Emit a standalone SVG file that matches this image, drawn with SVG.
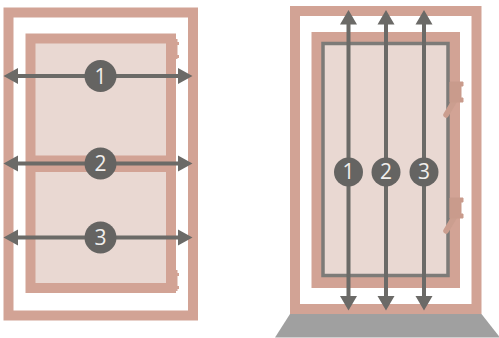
<svg xmlns="http://www.w3.org/2000/svg" width="499" height="338" viewBox="0 0 499 338">
<style>
.frame{fill:none;stroke:#d2a395;stroke-width:10}
.sash{fill:#e9d8d2;stroke:#d2a395;stroke-width:10}
.wall{fill:#d2a395}
.hinge{fill:#c99b8c;stroke:#c99b8c;stroke-width:1;stroke-linejoin:round}
.handle{fill:none;stroke:#cb9e8f;stroke-width:5.500;stroke-linecap:round}
.ln{fill:none;stroke:#6b6a67;stroke-width:4}
.hd{fill:#6b6a67}
.dot{fill:#656462}
.lab{font-family:"Open Sans","Liberation Sans",sans-serif;font-size:21px;fill:#f1efed;text-anchor:middle}
</style>
<polygon id="floor" points="290,314 481.500,314 500,337.500 275,337.500" fill="#a0a0a0"/>
<g id="left-window">
<rect class="frame" x="8.500" y="12.500" width="184.500" height="303"/>
<rect class="sash" x="30.500" y="38.500" width="140.500" height="122"/>
<rect class="sash" x="30.500" y="167" width="140.500" height="121"/>
<path class="wall" d="M175 39h2.500v3h1.500v3h-1.500v10h1.500v3h-1.500v1h-2.500zM175 270h2.500v3h1.500v3h-1.500v10h1.500v3h-1.500v2h-2.500z"/>
</g>
<g id="right-window">
<rect class="frame" x="295" y="11" width="181.500" height="298"/>
<rect x="311.500" y="32" width="148.500" height="256" fill="#d2a395"/>
<rect x="323" y="43.500" width="125" height="232" fill="#e9d8d2" stroke="#7d7b78" stroke-width="3.500"/>
<path class="handle" d="M456 98L446 115M456 214L446 231"/>
<path class="hinge" d="M450 82h13v4h-2v12h2v4h-13zM450 198h13v4h-2v12h2v4h-13z"/>
</g>
<g id="connectors">
<path class="ln" d="M12 76H184M12 163.500H184M12 237.500H184M348.500 20V300M386 20V300M424 20V300"/>
<path class="hd" d="M3.500 76L18 68V84ZM192.500 76L178 68V84ZM3.500 163.500L18 155.500V171.500ZM192.500 163.500L178 155.500V171.500ZM3.500 237.500L18 229.500V245.500ZM192.500 237.500L178 229.500V245.500Z"/>
<path class="hd" d="M348.500 10L340 24.500H357ZM386 10L377.500 24.500H394.500ZM424 10L415.500 24.500H432.500ZM348.500 310.500L340 296H357ZM386 310.500L377.500 296H394.500ZM424 310.500L415.500 296H432.500Z"/>
</g>
<g id="n1"><circle class="dot" cx="100.500" cy="76" r="16"/><text class="lab" x="100.500" y="83.500">1</text></g>
<g id="n2"><circle class="dot" cx="100.500" cy="163.500" r="16"/><text class="lab" x="100.500" y="171">2</text></g>
<g id="n3"><circle class="dot" cx="100.500" cy="237.500" r="16"/><text class="lab" x="100.500" y="245">3</text></g>
<g id="n4"><circle class="dot" cx="348.500" cy="172" r="14.500"/><text class="lab" x="348.500" y="179">1</text></g>
<g id="n5"><circle class="dot" cx="386" cy="172" r="14.500"/><text class="lab" x="386" y="179">2</text></g>
<g id="n6"><circle class="dot" cx="424" cy="172" r="14.500"/><text class="lab" x="424" y="179">3</text></g>
</svg>
